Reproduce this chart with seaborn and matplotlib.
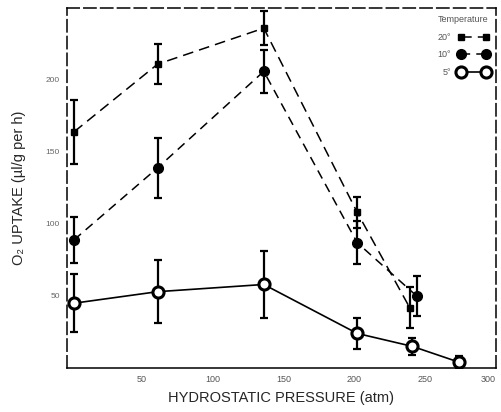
import matplotlib
matplotlib.use("Agg")
import matplotlib.pyplot as plt
import seaborn as sns
import pandas as pd

# ---- data ----
pressure_1 = [2, 61, 136, 202, 239]
uptake_1 = [164, 211, 236, 108, 42]
err_1 = [22, 14, 12, 11, 14]

pressure_2 = [2, 61, 136, 202, 244]
uptake_2 = [89, 139, 206, 87, 50]
err_2 = [16, 21, 15, 15, 14]

pressure_3 = [2, 61, 136, 202, 241, 274]
uptake_3 = [45, 53, 58, 24, 15, 4]
err_3 = [20, 22, 23, 11, 6, 4]

series_labels = ["20°", "10°", "5°"]
legend_title = "Temperature"
x_ticks = [50, 100, 150, 200, 250, 300]
y_ticks = [50, 100, 150, 200]

sns.set_style("white")
plt.rcParams["font.family"] = ["Liberation Sans", "DejaVu Sans"]

fig = plt.figure(figsize=(5.01, 4.12), dpi=100)
ax = fig.add_axes([0.1337, 0.1068, 0.8563, 0.8738])

styles = [
    dict(marker="s", ms=4, mfc="black", mec="black", ls=(0, (7, 4)), lw=1.1),
    dict(marker="o", ms=7, mfc="black", mec="black", ls=(0, (6, 4)), lw=1.1),
    dict(marker="o", ms=8, mfc="white", mec="black", mew=2.2, ls="-", lw=1.2),
]

datasets = [(pressure_1, uptake_1, err_1), (pressure_2, uptake_2, err_2),
            (pressure_3, uptake_3, err_3)]

handles = []
for (px, py, pe), lab, st in zip(datasets, series_labels, styles):
    df = pd.DataFrame({"p": px, "u": py})
    ax.errorbar(px, py, yerr=pe, fmt="none", ecolor="black", elinewidth=1.6,
                capsize=3, capthick=1.6, zorder=2)
    sns.lineplot(data=df, x="p", y="u", ax=ax, color="black", label=lab,
                 linestyle=st["ls"], linewidth=st["lw"], marker=st["marker"],
                 markersize=st["ms"], markerfacecolor=st["mfc"],
                 markeredgecolor=st["mec"], markeredgewidth=st.get("mew", 1),
                 zorder=3, legend=False)
    handles.append(ax.lines[-1])

ax.set_xlim(-3, 300)
ax.set_ylim(0, 250)
ax.set_xticks(x_ticks)
ax.set_yticks(y_ticks)
ax.set_xticklabels([str(t) for t in x_ticks], fontsize=6.5, color="#555555")
ax.get_xticklabels()[-1].set_horizontalalignment("right")
ax.set_yticklabels([str(t) for t in y_ticks], fontsize=6, color="#666666")
ax.tick_params(direction="in", length=4, width=1, color="black", pad=5)

for name, sp in ax.spines.items():
    sp.set_color("black")
    sp.set_linewidth(1.1)
    if name in ("top", "right", "left"):
        sp.set_linestyle((0, (8, 3)))

ax.set_xlabel("HYDROSTATIC PRESSURE (atm)", fontsize=10.5, labelpad=5)
ax.set_ylabel("O\u2082 UPTAKE (\u00b5l/g per h)", fontsize=10.5, labelpad=14)

leg = ax.legend(handles=handles, labels=series_labels, title=legend_title,
                loc="upper right", frameon=False, numpoints=2,
                markerfirst=False, fontsize=6.5, title_fontsize=6.5,
                handlelength=3.4, labelspacing=0.95, borderaxespad=0.4)
for t in leg.get_texts():
    t.set_color("#555555")
leg.get_title().set_color("#555555")

fig.savefig("out.png", dpi=100)
